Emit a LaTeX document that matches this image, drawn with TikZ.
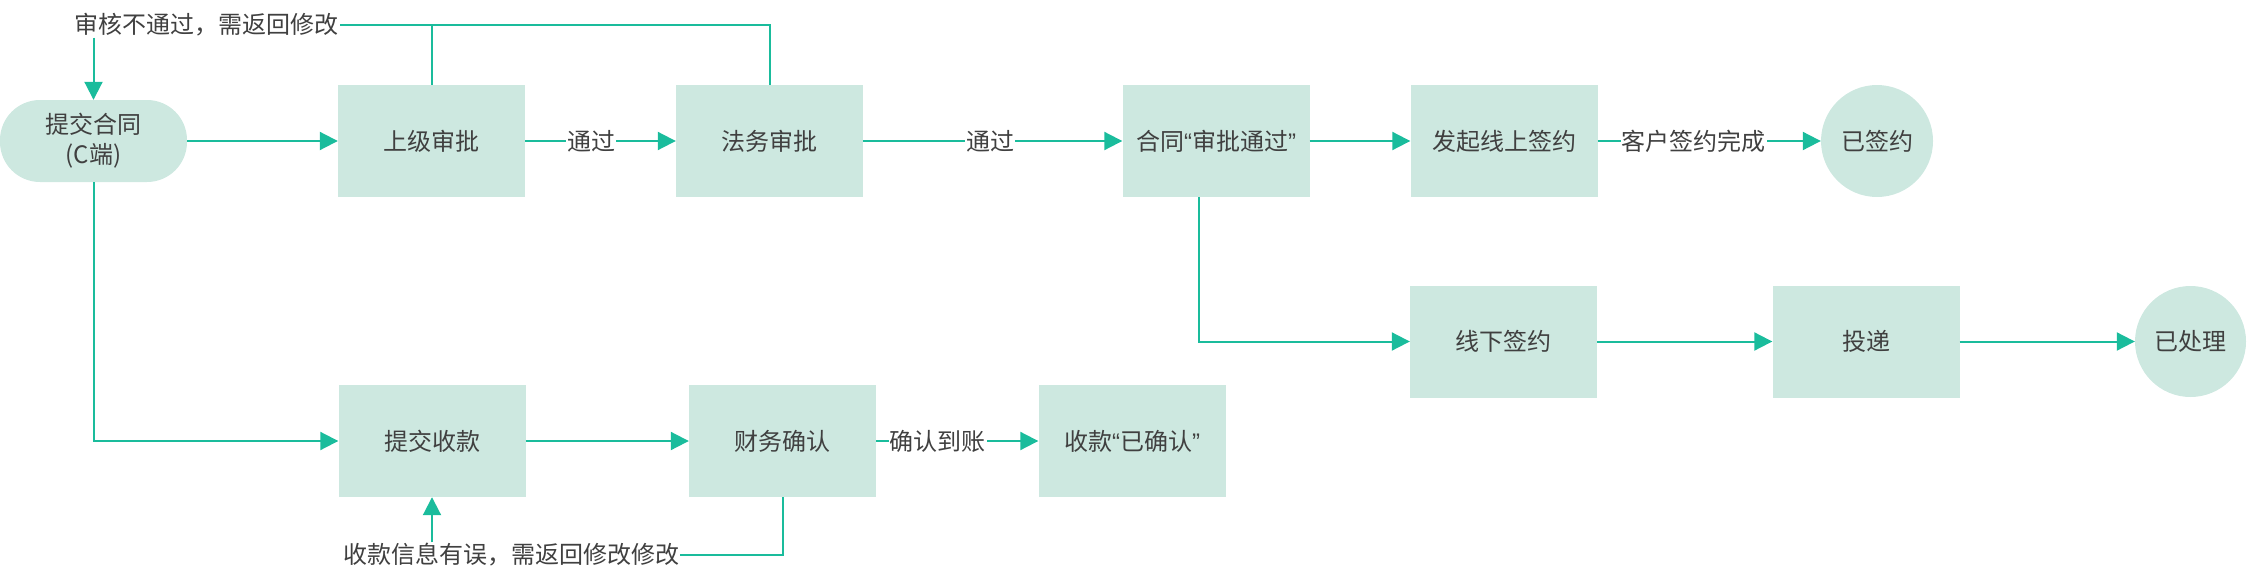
\documentclass[tikz,border=0pt]{standalone}
\usepackage{fontspec}
\setmainfont{Noto Sans CJK SC}
\newfontfamily\qfont{Liberation Sans}
\usetikzlibrary{arrows.meta}
\definecolor{lc}{HTML}{1ABC9C}
\definecolor{fc}{HTML}{CDE8E0}
\definecolor{tc}{HTML}{404040}
\tikzset{
  txt/.style={text=tc, font=\fontsize{24}{30}\selectfont},
  box/.style={txt, fill=fc, minimum width=187pt, minimum height=112pt, inner sep=0pt},
  rnd/.style={txt, fill=fc, circle, minimum size=112pt, inner sep=0pt},
  pill/.style={txt, fill=fc, rounded corners=40pt, minimum width=187pt, minimum height=82pt, inner sep=0pt, align=center},
  lbl/.style={txt, fill=white, inner sep=1pt},
  conn/.style={draw=lc, line width=2pt, -{Triangle[length=18pt,width=18pt]}},
  plain/.style={draw=lc, line width=2pt}
}
\begin{document}
\begin{tikzpicture}[x=1pt,y=-1pt]
\useasboundingbox (0,0) rectangle (2248,578);
% nodes
\node[pill] (p) at (93.5,141) {提交合同\\(C端)};
\node[box] (b1) at (431.5,141) {上级审批};
\node[box] (b2) at (769.5,141) {法务审批};
\node[box] (b3) at (1216,141) {合同{\qfont“}审批通过{\qfont”}};
\node[box] (b4) at (1504,141) {发起线上签约};
\node[rnd] (c1) at (1877,141) {已签约};
\node[box] (b5) at (1503.5,341.5) {线下签约};
\node[box] (b6) at (1866,341.5) {投递};
\node[rnd, minimum size=111pt] (c2) at (2190.5,341.5) {已处理};
\node[box] (b7) at (432,441) {提交收款};
\node[box] (b8) at (782.5,441) {财务确认};
\node[box] (b9) at (1132,441) {收款{\qfont“}已确认{\qfont”}};
\node[lbl] (tl) at (206.5,25) {审核不通过，需返回修改};
\node[lbl] (bl) at (511,555) {收款信息有误，需返回修改修改};
\coordinate (b3d) at (1199,197);
% connectors
\draw[conn] (p.east) -- (b1.west);
\draw[conn] (b1.east) -- node[lbl, pos=0.44] {通过} (b2.west);
\draw[conn] (b2.east) -- node[lbl, pos=0.49] {通过} (b3.west);
\draw[conn] (b3.east) -- (b4.west);
\draw[conn] (b4.east) -- node[lbl, pos=0.43] {客户签约完成} (c1.west);
\draw[conn] (b3d) |- (b5.west);
\draw[conn] (b5.east) -- (b6.west);
\draw[conn] (b6.east) -- (c2.west);
\draw[conn] (p.south) |- (b7.west);
\draw[conn] (b7.east) -- (b8.west);
\draw[conn] (b8.east) -- node[lbl, pos=0.38] {确认到账} (b9.west);
% return paths
\draw[plain] (b2.north) |- (tl.east);
\draw[plain] (b1.north) -- (b1.north |- tl.east);
\draw[conn] (tl.south -| p.north) -- (p.north);
\draw[plain] (b8.south) |- (bl.east);
\draw[conn] (bl.north -| b7.south) -- (b7.south);
\end{tikzpicture}
\end{document}
